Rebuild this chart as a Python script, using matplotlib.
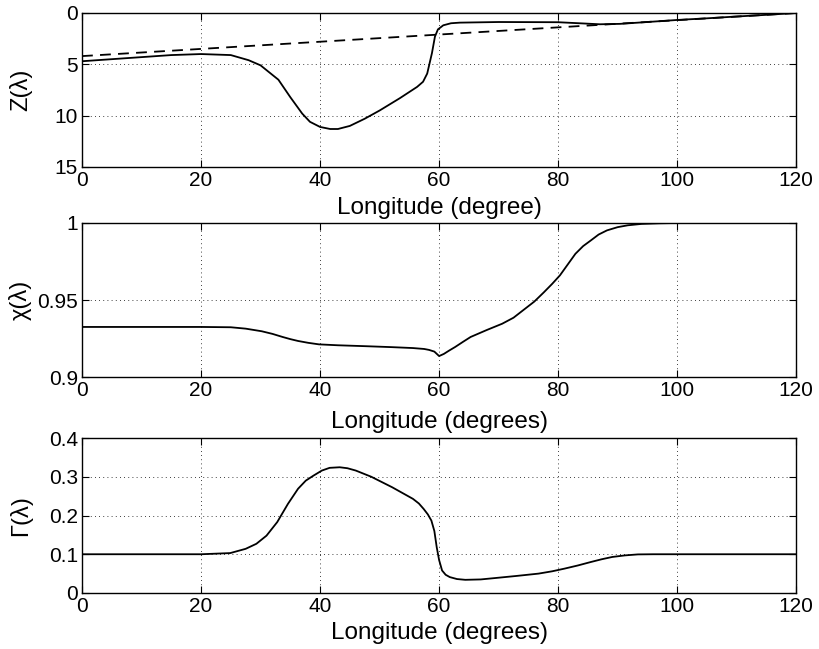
import matplotlib
matplotlib.use("Agg")
import matplotlib.pyplot as plt

plt.rcParams['font.family'] = ['Liberation Sans', 'DejaVu Sans']

# top panel: Z(lambda), solid and dashed
z_lon = [0, 5, 10, 15, 20, 25, 28, 30, 33, 35, 37, 38.3, 40, 41.7, 43, 45, 47.5, 50, 53.4, 56.3, 57.3, 58, 58.8, 59.3, 59.8, 60.7, 62, 63.5, 70, 80, 87, 90.4, 95, 100, 105, 109.5, 115, 120]
z_val = [4.7, 4.5, 4.3, 4.1, 4.0, 4.1, 4.6, 5.1, 6.5, 8.2, 9.8, 10.6, 11.1, 11.3, 11.3, 11.0, 10.3, 9.5, 8.3, 7.2, 6.7, 5.9, 3.9, 2.3, 1.6, 1.2, 1.0, 0.94, 0.88, 0.9, 1.1, 1.06, 0.88, 0.68, 0.52, 0.36, 0.18, 0.0]
z_ref_lon = [0, 120]
z_ref_val = [4.2, 0.0]

# middle panel: chi(lambda)
chi_lon = [0, 10, 20, 25, 27.5, 30.2, 32, 33.7, 35, 36.3, 38, 39.8, 43, 47.7, 52, 55.6, 57.5, 58.3, 59.2, 60, 60.8, 61.7, 62.7, 64, 65.3, 68, 70.6, 72.5, 74.1, 76, 77.6, 79, 80.3, 81.6, 82.9, 84.2, 85.5, 86.8, 88.2, 90, 91.7, 94, 97, 100, 110, 120]
chi_val = [0.9325, 0.9325, 0.9325, 0.9323, 0.9314, 0.9297, 0.9280, 0.9260, 0.9246, 0.9234, 0.9222, 0.9212, 0.9206, 0.9200, 0.9194, 0.9188, 0.9182, 0.9176, 0.9165, 0.9136, 0.9150, 0.9172, 0.9195, 0.9228, 0.9260, 0.9305, 0.9346, 0.9385, 0.9433, 0.9490, 0.9550, 0.9605, 0.9660, 0.9730, 0.9800, 0.9850, 0.9887, 0.9925, 0.9952, 0.9973, 0.9985, 0.9994, 0.9998, 1.0, 1.0, 1.0]

# bottom panel: Gamma(lambda)
g_lon = [0, 10, 20, 24.9, 27.5, 29.3, 31, 32.8, 34.6, 36.3, 37.6, 38.9, 40.3, 41.6, 43.3, 44.6, 46, 48.6, 52.1, 55.6, 56.6, 57.4, 58.1, 58.7, 59.2, 59.6, 60, 60.5, 61.1, 61.8, 63, 64.4, 67, 69.7, 73, 76.7, 79, 81.1, 83.3, 85.5, 87.3, 89.1, 91.2, 93.4, 96, 99.6, 110, 120]
g_val = [0.1, 0.1, 0.1, 0.103, 0.114, 0.127, 0.148, 0.183, 0.230, 0.269, 0.290, 0.303, 0.316, 0.323, 0.3245, 0.322, 0.316, 0.300, 0.273, 0.243, 0.231, 0.217, 0.203, 0.187, 0.160, 0.118, 0.085, 0.058, 0.047, 0.041, 0.036, 0.034, 0.035, 0.039, 0.044, 0.050, 0.056, 0.063, 0.071, 0.080, 0.087, 0.093, 0.097, 0.0996, 0.1, 0.1, 0.1, 0.1]

fig = plt.figure(figsize=(8.2, 6.49), dpi=100)
ax1 = fig.add_axes([0.1, 0.7427, 0.871, 0.2373])
ax2 = fig.add_axes([0.1, 0.4191, 0.871, 0.2373])
ax3 = fig.add_axes([0.1, 0.0863, 0.871, 0.2388])

ax1.plot(z_lon, z_val, color='black', lw=1.3)
ax1.plot(z_ref_lon, z_ref_val, color='black', lw=1.3, linestyle=(0, (6, 4)))
ax1.set_ylim(15, 0)
ax1.set_yticks([0, 5, 10, 15])
ax1.set_ylabel('Z(λ)', fontsize=17)
ax1.set_xlabel('Longitude (degree)', fontsize=17.5, labelpad=5)

ax2.plot(chi_lon, chi_val, color='black', lw=1.3)
ax2.set_ylim(0.9, 1.0)
ax2.set_yticks([0.9, 0.95, 1.0])
ax2.set_yticklabels(['0.9', '0.95', '1'])
ax2.set_ylabel('χ(λ)', fontsize=17)
ax2.set_xlabel('Longitude (degrees)', fontsize=17.5, labelpad=8)

ax3.plot(g_lon, g_val, color='black', lw=1.3)
ax3.set_ylim(0, 0.4)
ax3.set_yticks([0, 0.1, 0.2, 0.3, 0.4])
ax3.set_yticklabels(['0', '0.1', '0.2', '0.3', '0.4'])
ax3.set_ylabel('Γ(λ)', fontsize=17)
ax3.set_xlabel('Longitude (degrees)', fontsize=17.5, labelpad=4)

for ax in (ax1, ax2, ax3):
    ax.set_xlim(0, 120)
    ax.set_xticks([0, 20, 40, 60, 80, 100, 120])
    ax.grid(True, color='black', linestyle=(0, (1, 4)), linewidth=0.6)
    ax.tick_params(direction='in', top=True, right=True, length=5, labelsize=15, width=0.8, pad=3)
    ax.yaxis.set_label_coords(-0.07, 0.5)
    for s in ax.spines.values():
        s.set_linewidth(1.0)

fig.savefig('out.png', dpi=100)
